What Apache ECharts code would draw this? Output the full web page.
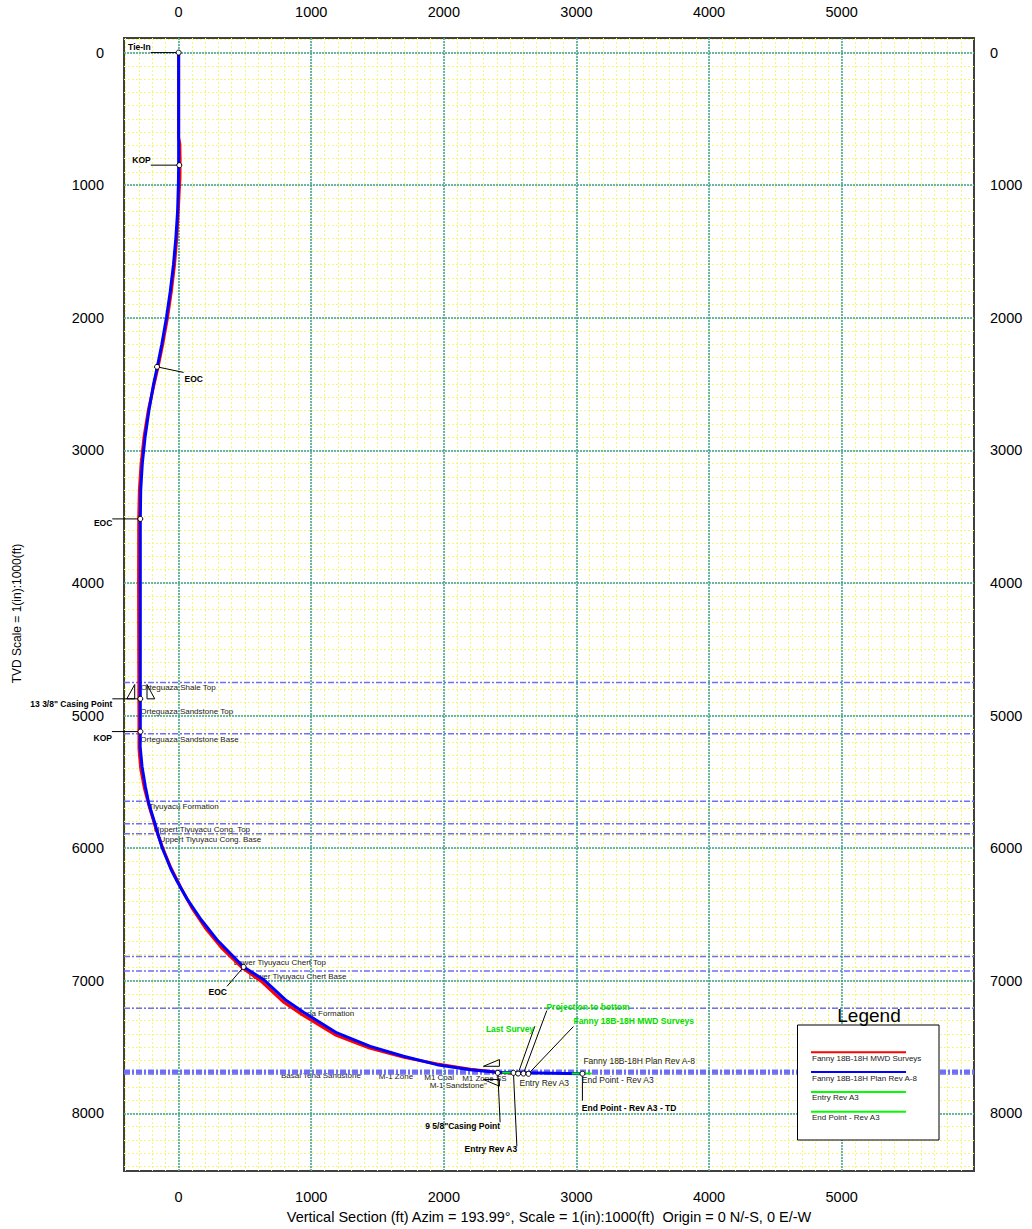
<!DOCTYPE html>
<html>
<head>
<meta charset="utf-8">
<script src="https://cdn.jsdelivr.net/npm/echarts@6/dist/echarts.min.js"></script>
<style>
html,body{margin:0;padding:0;background:#fff;}
#chart{width:1032px;height:1229px;}
</style>
</head>
<body>
<div id="chart"></div>
<script>
// ---------------- DATA ----------------
const xTicks = [0, 1000, 2000, 3000, 4000, 5000];
const yTicks = [0, 1000, 2000, 3000, 4000, 5000, 6000, 7000, 8000];

// Plan (blue)
const planVS  = [0, 0, -2, -8, -21, -39, -63, -92, -127, -161, -189, -224, -253, -274, -286, -289, -289, -290, -276, -251, -226, -176, -151, -121, -56, -18, 67, 170, 289, 490, 641, 804, 942, 1194, 1445, 1696, 1948, 2199, 2400, 3045];
const planTVD = [0, 850, 1000, 1200, 1400, 1600, 1800, 2000, 2200, 2371, 2500, 2700, 2900, 3100, 3300, 3517, 5121, 5234, 5384, 5535, 5660, 5824, 5912, 6005, 6163, 6238, 6389, 6540, 6691, 6896, 6992, 7143, 7238, 7394, 7495, 7570, 7633, 7671, 7691, 7701];

// MWD surveys (red)
const surveyVS  = [0, 0, 9, 11, 10, 4, -3, -14, -31, -55, -84, -120, -155, -185, -229, -261, -283, -296, -301, -302, -301, -300, -299, -299, -286, -258, -218, -172, -120, -58, 18, 100, 200, 322, 472, 630, 790, 930, 1180, 1440, 1700, 1950, 2200, 2400, 2560, 2638];
const surveyTVD = [0, 640, 690, 800, 950, 1050, 1200, 1400, 1600, 1800, 2000, 2200, 2371, 2500, 2700, 2900, 3100, 3300, 3517, 4000, 4500, 4874, 5121, 5250, 5400, 5550, 5700, 5850, 6000, 6150, 6300, 6450, 6600, 6750, 6896, 7010, 7160, 7255, 7408, 7508, 7578, 7628, 7667, 7690, 7700, 7702];

// Targets (green)
const entryVS  = [2440, 2560];
const entryTVD = [7693, 7693];
const endVS    = [2965, 3115];
const endTVD   = [7700, 7700];

// Formation tops
const formationNames = ['Orteguaza Shale Top', 'Orteguaza Sandstone Top', 'Orteguaza Sandstone Base', 'Tiyuyacu Formation', 'Uppert Tiyuyacu Cong. Top', 'Uppert Tiyuyacu Cong. Base', 'Lower Tiyuyacu Chert Top', 'Lower Tiyuyacu Chert Base', 'Tena Formation', 'Basal Tena Sandstone', 'M-1 Zone', 'M1 Coal', 'M1 Zone SS', 'M-1 Sandstone"'];
const formationTVD   = [4750, 4998, 5138, 5646, 5816, 5892, 6818, 6927, 7208, 7676, 7684, 7690, 7696, 7704];

// Annotated points
const annotationNames = ['Tie-In', 'KOP', 'EOC', 'EOC', '13 3/8" Casing Point', 'KOP', 'EOC', '9 5/8"Casing Point', 'Entry Rev A3', 'Last Survey', 'Projection to bottom', 'Fanny 18B-18H MWD Surveys', 'End Point - Rev A3 - TD', 'Entry Rev A3', 'Fanny 18B-18H Plan Rev A-8', 'End Point - Rev A3'];
const annotationVS    = [0, 5, -163, -289, -289, -288, 490, 2407, 2525, 2560, 2600, 2638, 3045, 2525, 3045, 3045];
const annotationTVD   = [0, 849, 2370, 3517, 4874, 5121, 6896, 7695, 7695, 7700, 7700, 7702, 7701, 7695, 7701, 7701];

// Casing shoes
const casingVS  = [-289, 2407];
const casingTVD = [4874, 7695];

const legendNames = ['Fanny 18B-18H MWD Surveys', 'Fanny 18B-18H Plan Rev A-8', 'Entry Rev A3', 'End Point - Rev A3'];

// ---------------- LAYOUT / STYLE ----------------
const XMIN = -412, XMAX = 5998, YMIN = -110, YMAX = 8435;
const FONT = '"Liberation Sans", Arial, sans-serif';
const xMinor = [], yMinor = [];
for (let v = -400; v <= 5900; v += 100) xMinor.push(v);
for (let v = -100; v <= 8400; v += 100) yMinor.push(v);

const formationLabelVS = [-286, -289, -289, -226, -188, -145, 415, 528, 904, 772, 1510, 1852, 2138, 1893];
const formationLabelDY = [0, -9, 0, 0, 0, 0, 0, 0, 0, 0, 0, 0, 0, 6];
const formationLineShow = [true, false, true, true, true, true, true, true, true, true, true, true, true, true];

// leader [dx,dy], text [dx,dy], align, valign, color, bold, dot
const annLayout = [
  {leader:[-28,0], text:[-28,-1], align:'right', valign:'bottom', color:'#000', bold:true, dot:true},
  {leader:[-28.5,0], text:[-28.5,-1], align:'right', valign:'bottom', color:'#000', bold:true, dot:true},
  {leader:[26.6,5.6], text:[27.5,8], align:'left', valign:'top', color:'#000', bold:true, dot:true},
  {leader:[-28,0], text:[-28,0], align:'right', valign:'top', color:'#000', bold:true, dot:true},
  {leader:[-28,0], text:[-28,1], align:'right', valign:'top', color:'#000', bold:true, dot:true},
  {leader:[-28.5,0], text:[-28.5,1.5], align:'right', valign:'top', color:'#000', bold:true, dot:true},
  {leader:[-16.6,19.4], text:[-16.6,21], align:'right', valign:'top', color:'#000', bold:true, dot:true},
  {leader:[2.3,49.4], text:[2.3,49], align:'right', valign:'top', color:'#000', bold:true, dot:true},
  {leader:[3.4,73.4], text:[3.7,71.5], align:'right', valign:'top', color:'#000', bold:true, dot:true},
  {leader:[16.7,-47.3], text:[16,-45], align:'right', valign:'middle', color:'#00dd00', bold:true, dot:true},
  {leader:[23.4,-63], text:[23,-66.3], align:'left', valign:'middle', color:'#00dd00', bold:true, dot:true},
  {leader:[45,-47.3], text:[45,-53.3], align:'left', valign:'middle', color:'#00dd00', bold:true, dot:true},
  {leader:[0,27], text:[-0.6,29.5], align:'left', valign:'top', color:'#000', bold:true, dot:true},
  {leader:null, text:[6,10], align:'left', valign:'middle', color:'#222', bold:false, dot:false},
  {leader:null, text:[1,-12.3], align:'left', valign:'middle', color:'#222', bold:false, dot:false},
  {leader:null, text:[-0.6,6], align:'left', valign:'middle', color:'#222', bold:false, dot:false}
];

const chart = echarts.init(document.getElementById('chart'), null, {renderer:'svg'});

function zipPts(a, b){ return a.map((v,i)=>[v, b[i]]); }
const plain = v => String(v);

const majorGrid = {show:true, lineStyle:{color:'#3a9e9e', width:1.5, type:[2,1]}};
const minorGrid = {show:true, lineStyle:{color:'#f6f67c', width:1, type:[2,2]}};
const tickLabel = {fontSize:14.5, color:'#000', fontFamily:FONT, formatter:plain};

const legendY0 = 1052.3, legendStep = 19.8;
const legendColors = ['#ff0000', '#0000ff', '#00ff00', '#00ff00'];
const legendChildren = [
  {type:'rect', z:100, shape:{x:797.5, y:1025, width:141.5, height:115}, style:{fill:'#fff', stroke:'#000', lineWidth:1}},
  {type:'text', z:101, style:{x:869, y:1015, text:'Legend', fontSize:19, fontFamily:FONT, fill:'#000', align:'center', verticalAlign:'middle'}}
];
legendNames.forEach((n,i)=>{
  const y = legendY0 + i*legendStep;
  legendChildren.push({type:'line', z:101, shape:{x1:811, y1:y, x2:906, y2:y}, style:{stroke:legendColors[i], lineWidth:2}});
  legendChildren.push({type:'text', z:101, style:{x:812, y:y+6, text:n, fontSize:8, fontFamily:FONT, fill:'#222', align:'left', verticalAlign:'middle'}});
});

const option = {
  animation:false,
  backgroundColor:'#fff',
  grid:{left:124, top:38, right:58, bottom:57.5, show:true, borderColor:'#404040', borderWidth:2, backgroundColor:'#fff', containLabel:false},
  xAxis:[
    {type:'value', position:'bottom', min:XMIN, max:XMAX, z:4,
     axisLine:{show:false}, axisTick:{show:false, customValues:xTicks},
     axisLabel:Object.assign({customValues:xTicks, margin:18}, tickLabel),
     splitLine:majorGrid,
     name:'Vertical Section (ft) Azim = 193.99\u00b0, Scale = 1(in):1000(ft)  Origin = 0 N/-S, 0 E/-W',
     nameLocation:'middle', nameGap:38, nameTextStyle:{fontSize:14.5, fontFamily:FONT, color:'#000'}},
    {type:'value', position:'top', min:XMIN, max:XMAX, z:4,
     axisLine:{show:false}, axisTick:{show:false, customValues:xTicks},
     axisLabel:Object.assign({customValues:xTicks, margin:19}, tickLabel),
     splitLine:{show:false}},
    {type:'value', position:'bottom', min:XMIN, max:XMAX, z:1,
     axisLine:{show:false}, axisTick:{show:false, customValues:xMinor},
     axisLabel:{show:false}, splitLine:minorGrid}
  ],
  yAxis:[
    {type:'value', position:'left', inverse:true, min:YMIN, max:YMAX, z:4,
     axisLine:{show:false}, axisTick:{show:false, customValues:yTicks},
     axisLabel:Object.assign({customValues:yTicks, margin:20}, tickLabel),
     splitLine:majorGrid,
     name:'TVD Scale = 1(in):1000(ft)', nameLocation:'middle', nameGap:101,
     nameTextStyle:{fontSize:12, fontFamily:FONT, color:'#000', padding:[0,18,0,0]}},
    {type:'value', position:'right', inverse:true, min:YMIN, max:YMAX, z:4,
     axisLine:{show:false}, axisTick:{show:false, customValues:yTicks},
     axisLabel:Object.assign({customValues:yTicks, margin:16}, tickLabel),
     splitLine:{show:false}},
    {type:'value', position:'left', inverse:true, min:YMIN, max:YMAX, z:1,
     axisLine:{show:false}, axisTick:{show:false, customValues:yMinor},
     axisLabel:{show:false}, splitLine:minorGrid}
  ],
  series:[
    {type:'custom', name:'formations', coordinateSystem:'cartesian2d', xAxisIndex:0, yAxisIndex:0, z:3, silent:true,
     data: zipPts(formationLabelVS, formationTVD), encode:{x:0, y:1},
     renderItem:function(params, api){
       const i = params.dataIndex;
       const tvd = api.value(1);
       const a = api.coord([XMIN, tvd]), b = api.coord([XMAX, tvd]);
       const l = api.coord([api.value(0), tvd]);
       const ch = [];
       if (formationLineShow[i]) ch.push({type:'line', shape:{x1:a[0], y1:a[1], x2:b[0], y2:b[1]}, style:{stroke:'#6f6ff5', lineWidth:1.5, lineDash:[6,2,2,2]}});
       ch.push({type:'text', x:l[0], y:l[1]+1.5+formationLabelDY[i], style:{text:formationNames[i], fill:'#222', fontSize:8, fontFamily:FONT, align:'left', verticalAlign:'top'}});
       return {type:'group', children:ch};
     }},
    {type:'line', name:'Fanny 18B-18H MWD Surveys', xAxisIndex:0, yAxisIndex:0, z:5, showSymbol:false, silent:true,
     data: zipPts(surveyVS, surveyTVD), lineStyle:{color:'#ff0000', width:3}},
    {type:'line', name:'Fanny 18B-18H Plan Rev A-8', xAxisIndex:0, yAxisIndex:0, z:6, showSymbol:false, silent:true,
     data: zipPts(planVS, planTVD), lineStyle:{color:'#0000ff', width:3}},
    {type:'line', name:'Entry Rev A3', xAxisIndex:0, yAxisIndex:0, z:7, showSymbol:false, silent:true,
     data: zipPts(entryVS, entryTVD), lineStyle:{color:'#00ee00', width:2}},
    {type:'line', name:'End Point - Rev A3', xAxisIndex:0, yAxisIndex:0, z:7, showSymbol:false, silent:true,
     data: zipPts(endVS, endTVD), lineStyle:{color:'#00ee00', width:2}},
    {type:'custom', name:'casing', coordinateSystem:'cartesian2d', xAxisIndex:0, yAxisIndex:0, z:8, silent:true,
     data: zipPts(casingVS, casingTVD), encode:{x:0, y:1},
     renderItem:function(params, api){
       const p = api.coord([api.value(0), api.value(1)]);
       const st = {stroke:'#000', lineWidth:1, fill:null};
       let pts;
       if (params.dataIndex === 0) {
         pts = [
           [[-5.6,-14.3],[-5.6,0],[-13.5,0],[-5.6,-14.3]],
           [[6.7,-14.3],[6.7,0],[14.4,0],[6.7,-14.3]]
         ];
       } else {
         pts = [
           [[-14.4,-6.6],[1.6,-6.6],[1.6,-13.3],[-14.4,-6.6]],
           [[-14.4,6.6],[1.6,6.6],[1.6,13.3],[-14.4,6.6]]
         ];
       }
       return {type:'group', children: pts.map(poly=>({type:'polyline', shape:{points:poly.map(q=>[p[0]+q[0], p[1]+q[1]])}, style:st}))};
     }},
    {type:'custom', name:'annotations', coordinateSystem:'cartesian2d', xAxisIndex:0, yAxisIndex:0, z:9, silent:true,
     data: zipPts(annotationVS, annotationTVD), encode:{x:0, y:1},
     renderItem:function(params, api){
       const i = params.dataIndex, L = annLayout[i];
       const p = api.coord([api.value(0), api.value(1)]);
       const ch = [];
       if (L.leader) ch.push({type:'line', shape:{x1:p[0], y1:p[1], x2:p[0]+L.leader[0], y2:p[1]+L.leader[1]}, style:{stroke:'#000', lineWidth:1}});
       ch.push({type:'text', x:p[0]+L.text[0], y:p[1]+L.text[1], style:{text:annotationNames[i], fill:L.color, fontSize:8.5, fontWeight:L.bold?'bold':'normal', fontFamily:FONT, align:L.align, verticalAlign:L.valign}});
       if (L.dot) ch.push({type:'circle', shape:{cx:p[0], cy:p[1], r:2.5}, style:{fill:'#fff', stroke:'#000', lineWidth:1}});
       return {type:'group', children:ch};
     }}
  ],
  graphic:[{type:'group', z:100, children:legendChildren}]
};
chart.setOption(option);
</script>
</body>
</html>
